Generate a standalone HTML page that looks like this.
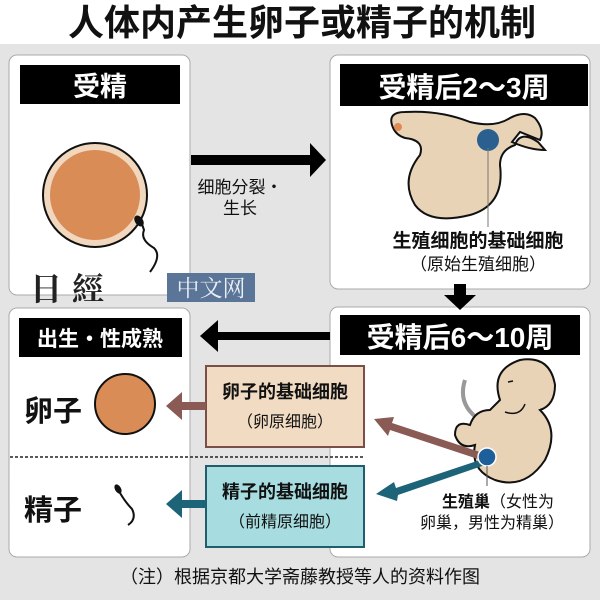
<!DOCTYPE html>
<html><head><meta charset="utf-8"><style>
body{margin:0;width:600px;height:600px;overflow:hidden;background:#e4e4e4;font-family:"Liberation Sans","Noto Sans CJK SC",sans-serif}
</style></head><body>
<svg width="600" height="600" xmlns="http://www.w3.org/2000/svg" style="position:absolute;left:0;top:0" font-family="Liberation Sans, Noto Sans CJK SC, sans-serif">
<rect x="0" y="0" width="600" height="44" fill="#fff"/>
<rect x="0" y="44" width="600" height="556" fill="#e4e4e4"/>
<text x="302" y="35" font-size="36" font-weight="bold" text-anchor="middle" fill="#111">人体内产生卵子或精子的机制</text>
<!-- panels -->
<rect x="9" y="55" width="181" height="240" rx="8" fill="#fff" stroke="#aaa"/>
<rect x="330" y="55" width="260" height="234" rx="8" fill="#fff" stroke="#aaa"/>
<rect x="9" y="308" width="181" height="249" rx="8" fill="#fff" stroke="#aaa"/>
<rect x="330" y="307" width="260" height="250" rx="8" fill="#fff" stroke="#aaa"/>
<!-- headers -->
<rect x="20" y="65" width="160" height="39" fill="#000"/>
<text x="100" y="96" font-size="27" font-weight="bold" fill="#fff" text-anchor="middle">受精</text>
<rect x="340" y="64" width="248" height="42" fill="#000"/>
<text x="464" y="97" font-size="28" font-weight="bold" fill="#fff" text-anchor="middle">受精后2〜3周</text>
<rect x="19" y="318" width="163" height="39" fill="#000"/>
<text x="100" y="346" font-size="21" font-weight="bold" fill="#fff" text-anchor="middle">出生・性成熟</text>
<rect x="340" y="315" width="240" height="40" fill="#000"/>
<text x="460" y="347" font-size="28" font-weight="bold" fill="#fff" text-anchor="middle">受精后6〜10周</text>
<!-- egg -->
<circle cx="95" cy="195" r="52" fill="#f0d7bd" stroke="#111" stroke-width="2"/>
<circle cx="95" cy="195" r="45" fill="#da8c57"/>
<path d="M136 218 q6 4 8 12 q-4 10 10 18 q8 8 -4 24" fill="none" stroke="#111" stroke-width="2"/>
<ellipse cx="139" cy="221" rx="4" ry="6" fill="#111" transform="rotate(-35 139 221)"/>
<!-- top arrow -->
<polygon points="191,155 310,155 310,143 326,160 310,177 310,165 191,165" fill="#000"/>
<text x="240" y="193" font-size="17" text-anchor="middle" fill="#111">细胞分裂・</text>
<text x="240" y="214" font-size="17" text-anchor="middle" fill="#111">生长</text>
<!-- embryo 2-3 weeks -->
<path d="M392 125 Q388 112 405 112 Q440 110 470 122 Q495 128 510 118 Q525 110 535 118 Q545 130 540 140 L520 132 L512 142 Q530 150 545 150 L538 142 Q520 130 515 145 Q500 150 500 165 Q505 205 470 215 Q430 225 415 205 Q400 180 420 155 Q425 140 405 138 Q395 135 392 125 Z" fill="#e9d3b7" stroke="#111" stroke-width="2"/>
<circle cx="398" cy="127" r="4" fill="#e08a55"/>
<circle cx="488" cy="140" r="11" fill="#2b5f8f"/>
<line x1="488" y1="148" x2="488" y2="227" stroke="#777"/>
<text x="478" y="247" font-size="19" font-weight="bold" text-anchor="middle" fill="#111">生殖细胞的基础细胞</text>
<text x="478" y="270" font-size="17" text-anchor="middle" fill="#111">（原始生殖细胞）</text>
<!-- down arrow -->
<polygon points="454,284 466,284 466,295 476,295 460,310 444,295 454,295" fill="#000"/>
<!-- left arrow -->
<polygon points="330,332 218,332 218,320 200,336 218,352 218,340 330,340" fill="#000"/>
<!-- watermark -->
<text x="30" y="300" font-size="32" font-weight="bold" fill="#222" font-family="Liberation Serif, Noto Serif CJK SC, serif" letter-spacing="10">日經</text>
<rect x="167" y="273" width="88" height="29" fill="#5a7597"/>
<text x="211" y="296" font-size="23" text-anchor="middle" fill="#e8eef5" font-family="Liberation Serif, Noto Serif CJK SC, serif">中文网</text>
<!-- dotted divider -->
<line x1="10" y1="457" x2="364" y2="457" stroke="#222" stroke-width="1.5" stroke-dasharray="3,2"/>
<!-- mid boxes -->
<rect x="206" y="366" width="158" height="81" fill="#f1dcc3" stroke="#7a4f4a" stroke-width="2"/>
<text x="285" y="398" font-size="18" font-weight="bold" text-anchor="middle" fill="#111">卵子的基础细胞</text>
<text x="285" y="427" font-size="16" text-anchor="middle" fill="#111">（卵原细胞）</text>
<rect x="206" y="466" width="158" height="81" fill="#a7dde0" stroke="#215d6c" stroke-width="2"/>
<text x="285" y="498" font-size="18" font-weight="bold" text-anchor="middle" fill="#111">精子的基础细胞</text>
<text x="285" y="527" font-size="16" text-anchor="middle" fill="#111">（前精原细胞）</text>
<!-- small arrows left -->
<polygon points="206,402 182,402 182,392 166,406 182,420 182,410 206,410" fill="#8a5a55"/>
<polygon points="206,500 182,500 182,490 166,504 182,518 182,508 206,508" fill="#1d6478"/>
<!-- bottom-left content -->
<text x="24" y="421" font-size="29" font-weight="bold" fill="#111">卵子</text>
<circle cx="125" cy="404" r="30" fill="#da8c57" stroke="#111" stroke-width="2"/>
<text x="24" y="520" font-size="29" font-weight="bold" fill="#111">精子</text>
<ellipse cx="118" cy="489" rx="3" ry="5" fill="#111" transform="rotate(-30 118 489)"/>
<path d="M120 493 q6 10 12 16 q5 10 -4 16" fill="none" stroke="#111" stroke-width="2"/>
<!-- embryo 6-10 -->
<path d="M465 380 q-8 25 15 40" fill="none" stroke="#999" stroke-width="4"/>
<path d="M500 400 q-10 -30 20 -40 q30 -5 35 25 q0 20 -15 25 q20 20 5 50 q-20 30 -50 20 q-25 -10 -20 -35 q-15 5 -20 -10 q0 -15 15 -10 q5 -15 20 -15z" fill="#e9d3b7" stroke="#111" stroke-width="2"/>
<path d="M505 412 q15 5 20 -8" fill="none" stroke="#111" stroke-width="1.5"/>
<line x1="508" y1="382" x2="513" y2="381" stroke="#111" stroke-width="1.5"/>
<polygon points="486,454 392,423 394,417 374,419 388,436 390,430 484,461" fill="#8a5a55"/>
<polygon points="486,458 396,488 394,482 376,494 397,501 398,495 488,464" fill="#1d6478"/>
<circle cx="487" cy="457" r="9" fill="#1d5f9a" stroke="#fff" stroke-width="1.5"/>
<line x1="487" y1="466" x2="487" y2="486" stroke="#555"/>
<text x="498" y="507" font-size="16" text-anchor="middle" fill="#111"><tspan font-weight="bold">生殖巢</tspan>（女性为</text>
<text x="492" y="528" font-size="16" text-anchor="middle" fill="#111">卵巢，男性为精巢）</text>
<text x="300" y="583" font-size="18" text-anchor="middle" fill="#111">（注）根据京都大学斋藤教授等人的资料作图</text>
</svg>
</body></html>
